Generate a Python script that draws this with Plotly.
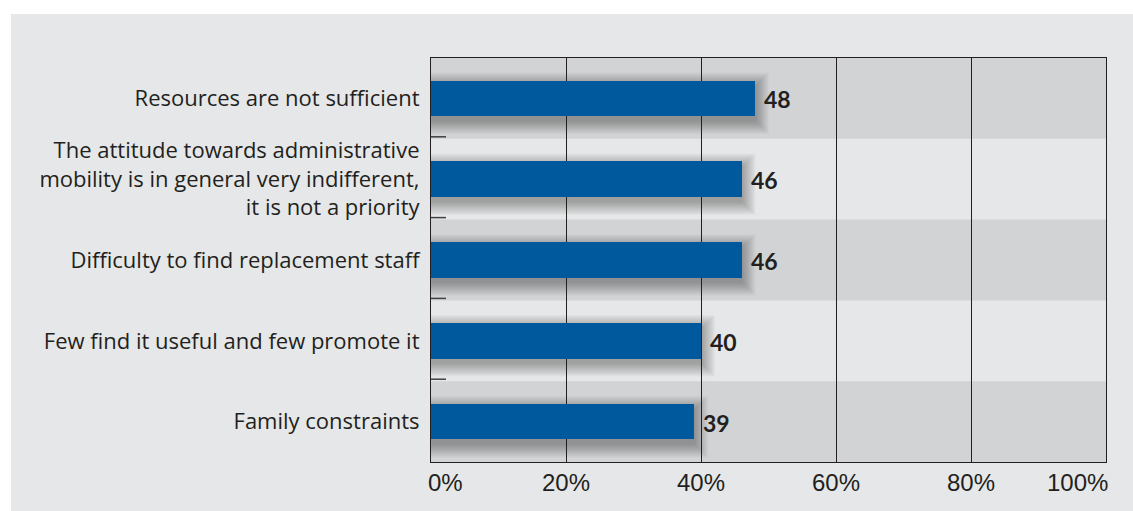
import plotly.graph_objects as go

# Survey results: obstacles to administrative mobility (share of respondents, %)
categories = [
    "Resources are not sufficient",
    "The attitude towards administrative<br>mobility is in general very indifferent,<br>it is not a priority",
    "Difficulty to find replacement staff",
    "Few find it useful and few promote it",
    "Family constraints",
]
values = [48, 46, 46, 40, 39]
x_ticks = [0, 20, 40, 60, 80, 100]
x_tick_labels = ["0%", "20%", "40%", "60%", "80%", "100%"]

TEXT = "#231f20"
PANEL = "#e6e7e8"
BAND = "#d1d3d4"
BAR = "#00599c"
BAR_WIDTH = 0.44

W, H = 1133, 511
ML, MR, MT, MB = 431, 27, 58, 49
plot_w = W - ML - MR
plot_h = H - MT - MB

shapes = []
# grey panel behind the whole chart, leaving a thin white strip top and left
shapes.append(dict(
    type="rect", xref="paper", yref="paper", layer="below",
    x0=(11 - ML) / plot_w, x1=(W - ML) / plot_w,
    y0=-(MB + 2) / plot_h, y1=1 + (MT - 14) / plot_h,
    fillcolor=PANEL, line_width=0,
))
# alternating darker bands behind every other category
for i in range(0, len(categories), 2):
    shapes.append(dict(
        type="rect", xref="paper", yref="y", layer="below",
        x0=0, x1=1, y0=i - 0.5, y1=i + 0.5,
        fillcolor=BAND, line_width=0,
    ))

# soft drop shadow under each bar, built from stacked translucent rectangles
px_x = 100 / plot_w                    # data units per pixel along x
px_y = len(categories) / plot_h        # category units per pixel along y
for i, v in enumerate(values):
    for k in range(0, 14):
        shapes.append(dict(
            type="rect", xref="x", yref="y", layer="below",
            x0=-(k - 1) * px_x, x1=v + (1 + k) * px_x,
            y0=i - BAR_WIDTH / 2 + (5 - k) * px_y,
            y1=i + BAR_WIDTH / 2 + (5 + k) * px_y,
            fillcolor="rgba(0,0,0,0.022)", line_width=0,
        ))

fig = go.Figure(go.Bar(
    x=values, y=list(range(len(categories))), orientation="h",
    marker=dict(color=BAR, line_width=0), width=BAR_WIDTH,
    hoverinfo="skip",
))

annotations = []
# value labels to the right of each bar
for i, v in enumerate(values):
    annotations.append(dict(
        x=v, y=i, xref="x", yref="y", text=str(v), showarrow=False,
        xanchor="left", yanchor="middle", xshift=7, yshift=-1,
        font=dict(family="Lato", size=23, color=TEXT, weight="bold"),
    ))
# x tick labels, end labels pulled inside the frame
for t, lab in zip(x_ticks, x_tick_labels):
    anchor = "left" if t == x_ticks[0] else ("right" if t == x_ticks[-1] else "center")
    shift = -5 if t == x_ticks[0] else (4 if t == x_ticks[-1] else 0)
    annotations.append(dict(
        x=t, y=0, xref="x", yref="paper", text=lab, showarrow=False,
        xanchor=anchor, yanchor="middle", xshift=shift, yshift=-20,
        font=dict(family="Liberation Sans", size=24, color=TEXT),
    ))

fig.update_layout(
    width=W, height=H,
    margin=dict(l=ML, r=MR, t=MT, b=MB, pad=0),
    paper_bgcolor="white", plot_bgcolor=PANEL,
    showlegend=False, bargap=0,
    shapes=shapes, annotations=annotations,
)
fig.update_xaxes(
    range=[0, 100], tickvals=x_ticks, showticklabels=False,
    showgrid=True, gridcolor=TEXT, gridwidth=1, zeroline=False,
    showline=True, mirror=True, linecolor=TEXT, linewidth=1.2,
    ticks="", fixedrange=True,
)
fig.update_yaxes(
    type="linear", range=[len(categories) - 0.5, -0.5],
    tickvals=list(range(len(categories))), ticktext=categories,
    showgrid=False, zeroline=False,
    showline=True, mirror=True, linecolor=TEXT, linewidth=1.2,
    ticks="", ticklabelstandoff=6,
    tickfont=dict(family="Open Sans", size=22, color=TEXT),
    fixedrange=True,
)
# short inside ticks on the category boundaries
for b in range(1, len(categories)):
    fig.add_shape(
        type="line", xref="paper", yref="y",
        x0=0, x1=15 / plot_w, y0=b - 0.5 - 2 * px_y, y1=b - 0.5 - 2 * px_y,
        line=dict(color="#414042", width=1.5),
    )

fig.write_html("out.html")
